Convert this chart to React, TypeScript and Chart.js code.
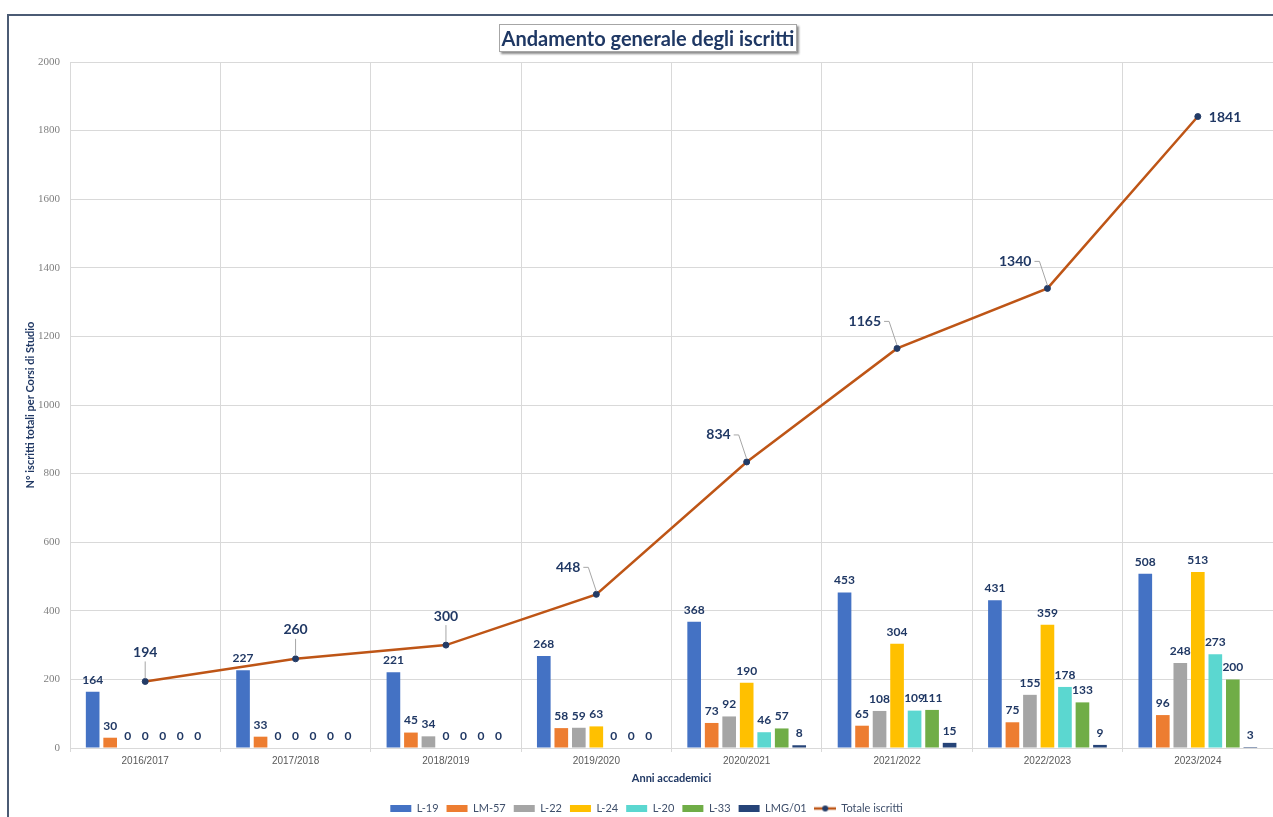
import React, { useEffect, useRef } from 'react';
import { Chart, registerables } from 'chart.js';

Chart.register(...registerables);

// ---------- data ----------
const years = ['2016/2017', '2017/2018', '2018/2019', '2019/2020', '2020/2021', '2021/2022', '2022/2023', '2023/2024'];
const courseNames = ['L-19', 'LM-57', 'L-22', 'L-24', 'L-20', 'L-33', 'LMG/01'];
const l19 = [164, 227, 221, 268, 368, 453, 431, 508];
const lm57 = [30, 33, 45, 58, 73, 65, 75, 96];
const l22 = [0, 0, 34, 59, 92, 108, 155, 248];
const l24 = [0, 0, 0, 63, 190, 304, 359, 513];
const l20 = [0, 0, 0, 0, 46, 109, 178, 273];
const l33 = [0, 0, 0, 0, 57, 111, 133, 200];
const lmg01 = [0, 0, 0, 0, 8, 15, 9, 3];
const totale = [194, 260, 300, 448, 834, 1165, 1340, 1841];
const totaleLabel = 'Totale iscritti';
const totaleLabelPlacement = ['above', 'above', 'above', 'upleft', 'upleft', 'upleft', 'upleft', 'right'];
const yMin = 0;
const yMax = 2000;
const yStep = 200;
const chartTitle = 'Andamento generale degli iscritti';
const yTitle = 'N° iscritti totali per Corsi di Studio';
const xTitle = 'Anni accademici';

const courseSeries = [l19, lm57, l22, l24, l20, l33, lmg01];
const courseColors = ['#4472C4', '#ED7D31', '#A5A5A5', '#FFC000', '#5BD7D0', '#70AD47', '#264478'];
const lineColor = '#BE5516';
const pointColor = '#233B66';
const labelColor = '#203864';

function makeLineLegendImage() {
  const c = document.createElement('canvas');
  c.width = 22;
  c.height = 8;
  const g = c.getContext('2d')!;
  g.strokeStyle = lineColor;
  g.lineWidth = 2.5;
  g.beginPath();
  g.moveTo(0, 4);
  g.lineTo(22, 4);
  g.stroke();
  g.fillStyle = pointColor;
  g.beginPath();
  g.arc(11, 4, 3, 0, Math.PI * 2);
  g.fill();
  return c;
}

const valueLabelPlugin = {
  id: 'valueLabels',
  afterDatasetsDraw(chart: any) {
    const ctx = chart.ctx;
    ctx.save();
    ctx.textAlign = 'center';
    ctx.textBaseline = 'middle';
    chart.data.datasets.forEach((ds: any, di: number) => {
      const meta = chart.getDatasetMeta(di);
      if (meta.hidden) return;
      if (ds.type === 'line') {
        ctx.font = 'bold 14px Lato';
        meta.data.forEach((pt: any, j: number) => {
          const text = String(ds.data[j]);
          const w = ctx.measureText(text).width;
          const place = totaleLabelPlacement[j];
          ctx.strokeStyle = '#A6A6A6';
          ctx.lineWidth = 1;
          let lx = pt.x;
          let ly = pt.y;
          if (place === 'above') {
            ly = pt.y - 29;
            ctx.beginPath();
            ctx.moveTo(pt.x, ly + 9);
            ctx.lineTo(pt.x, pt.y - 3);
            ctx.stroke();
          } else if (place === 'upleft') {
            const right = pt.x - 16;
            lx = right - w / 2;
            ly = pt.y - 27;
            ctx.beginPath();
            ctx.moveTo(right + 3, ly);
            ctx.lineTo(right + 8, ly);
            ctx.lineTo(pt.x, pt.y - 3);
            ctx.stroke();
          } else {
            lx = pt.x + 11 + w / 2;
            ly = pt.y + 1;
          }
          ctx.fillStyle = labelColor;
          ctx.fillText(text, lx, ly);
        });
      } else {
        ctx.font = 'bold 12px Lato';
        ctx.fillStyle = labelColor;
        meta.data.forEach((bar: any, j: number) => {
          ctx.fillText(String(ds.data[j]), bar.x, bar.y - 12);
        });
      }
    });
    ctx.restore();
  },
};

export default function App() {
  const ref = useRef<HTMLCanvasElement>(null);

  useEffect(() => {
    const lineImg = makeLineLegendImage();
    const datasets: any[] = [
      {
        type: 'line',
        label: totaleLabel,
        data: totale,
        borderColor: lineColor,
        backgroundColor: lineColor,
        borderWidth: 2.5,
        pointRadius: 3,
        pointBackgroundColor: pointColor,
        pointBorderColor: pointColor,
        pointBorderWidth: 1,
        tension: 0,
        order: 0,
      },
      ...courseNames.map((name, i) => ({
        type: 'bar',
        label: name,
        data: courseSeries[i],
        backgroundColor: courseColors[i],
        borderWidth: 0,
        order: 1,
        categoryPercentage: 0.815,
        barPercentage: 0.78,
      })),
    ];

    const chart = new Chart(ref.current!, {
      type: 'bar',
      data: { labels: years, datasets },
      options: {
        responsive: false,
        animation: false,
        layout: { padding: { top: 62, left: 20, right: 6, bottom: 0 } },
        plugins: {
          title: { display: false },
          tooltip: { enabled: false },
          legend: {
            position: 'bottom',
            labels: {
              usePointStyle: true,
              pointStyleWidth: 21,
              boxHeight: 7,
              padding: 8,
              color: '#3F4F6B',
              font: { family: 'Lato', size: 11 },
              sort: (a: any, b: any) => {
                const ia = a.datasetIndex === 0 ? 99 : a.datasetIndex;
                const ib = b.datasetIndex === 0 ? 99 : b.datasetIndex;
                return ia - ib;
              },
              generateLabels: (ch: any) => {
                const items = (Chart.defaults.plugins.legend.labels as any).generateLabels(ch);
                return items.map((it: any) => {
                  const ds = ch.data.datasets[it.datasetIndex];
                  if (ds.type === 'line') {
                    it.pointStyle = lineImg;
                  } else {
                    it.pointStyle = 'rect';
                    it.lineWidth = 0;
                  }
                  return it;
                });
              },
            },
          },
        },
        scales: {
          x: {
            grid: { color: '#D9D9D9', offset: true, tickLength: 4 },
            border: { color: '#D9D9D9' },
            ticks: { color: '#595959', font: { family: 'Liberation Sans', size: 10 }, padding: 3, maxRotation: 0 },
            title: {
              display: true,
              text: xTitle,
              color: labelColor,
              font: { family: 'Lato', size: 11, weight: 'bold' },
              padding: { top: 0, bottom: 10 },
            },
            afterFit: (s: any) => {
              s.height = 47;
            },
          },
          y: {
            min: yMin,
            max: yMax,
            ticks: {
              stepSize: yStep,
              color: '#7F7F7F',
              font: { family: 'Liberation Serif', size: 11 },
              padding: 10,
              callback: (v: any) => String(v),
            },
            grid: { color: '#D9D9D9', drawTicks: false },
            border: { display: false },
            title: {
              display: true,
              text: yTitle,
              color: labelColor,
              font: { family: 'Lato', size: 11, weight: 'bold' },
              padding: { top: 4, bottom: 4 },
            },
            afterFit: (s: any) => {
              s.width = 50;
            },
          },
        },
      } as any,
      plugins: [valueLabelPlugin],
    });
    return () => chart.destroy();
  }, []);

  return (
    <div style={{ position: 'fixed', left: 0, top: 0, width: 1273, height: 817, overflow: 'hidden', background: '#fff' }}>
      <div
        style={{
          position: 'absolute',
          left: 7,
          top: 14,
          width: 1400,
          height: 900,
          borderLeft: '2px solid #4B5B74',
          borderTop: '2px solid #4B5B74',
        }}
      />
      <canvas ref={ref} width={1279} height={824} style={{ position: 'absolute', left: 0, top: 0, display: 'block' }} />
      <div
        style={{
          position: 'absolute',
          left: 499,
          top: 24,
          width: 298,
          height: 28,
          boxSizing: 'border-box',
          border: '1px solid #A6A6A6',
          boxShadow: '2px 2px 2px rgba(0,0,0,0.45)',
          background: '#fff',
          display: 'flex',
          alignItems: 'center',
          justifyContent: 'center',
          fontFamily: 'Lato',
          fontWeight: 'bold',
          fontSize: 20,
          color: '#1F3864',
          whiteSpace: 'nowrap',
        }}
      >
        {chartTitle}
      </div>
    </div>
  );
}
